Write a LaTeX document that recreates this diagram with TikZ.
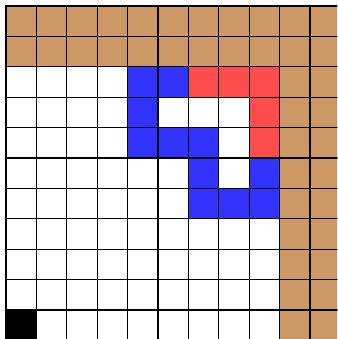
\documentclass[tikz,border=0pt]{standalone}
\usepackage{tikz}
\usepackage{xcolor}
\definecolor{wall}{RGB}{204,153,102}
\definecolor{visited}{RGB}{51,51,255}
\definecolor{frontier}{RGB}{255,77,77}

\begin{document}
\begin{tikzpicture}[
    x=1cm, y=-1cm,
    cell/.style={draw=black, line width=1.2pt},
    wallcell/.style={cell, fill=wall},
    visitcell/.style={cell, fill=visited},
    frontcell/.style={cell, fill=frontier},
    startcell/.style={cell, fill=black}
]

% Page
\useasboundingbox (-0.197,-0.197) rectangle (10.889,10.954);
\clip (-0.197,-0.197) rectangle (10.889,10.954);

% Empty grid
\foreach \c in {0,...,10}
    \foreach \r in {0,...,10}
        \draw[cell, fill=white] (\c,\r) rectangle ++(1,1);

% Walls
\foreach \c in {0,...,10}
    \foreach \r in {0,1}
        \draw[wallcell] (\c,\r) rectangle ++(1,1);
\foreach \c in {9,10}
    \foreach \r in {2,...,10}
        \draw[wallcell] (\c,\r) rectangle ++(1,1);

% Visited
\foreach \c/\r in {4/2,5/2,4/3,4/4,5/4,6/4,6/5,8/5,6/6,7/6,8/6}
    \draw[visitcell] (\c,\r) rectangle ++(1,1);

% Frontier
\foreach \c/\r in {6/2,7/2,8/2,8/3,8/4}
    \draw[frontcell] (\c,\r) rectangle ++(1,1);

% Start
\draw[startcell] (0,10) rectangle ++(1,1);

\end{tikzpicture}
\end{document}
